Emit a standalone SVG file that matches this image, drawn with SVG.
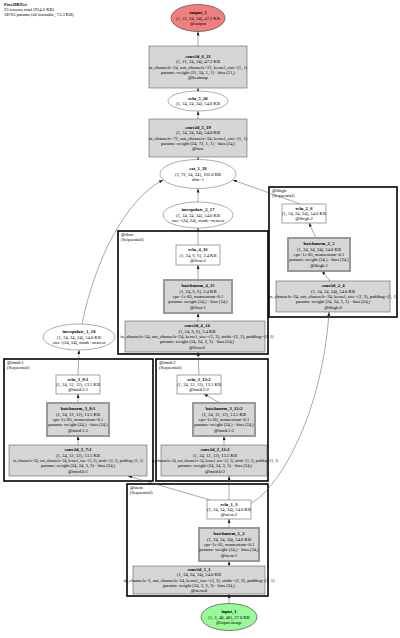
<svg xmlns="http://www.w3.org/2000/svg" width="400" height="638" viewBox="0 0 400 638">
<style>
text { font-family: "Liberation Serif", "Times New Roman", serif; font-size: 4.6px; fill: #000; text-anchor: middle; }
.b { font-weight: bold; }
.l { text-anchor: start; }
.s1 { font-size: 3.9px; }
.s2 { font-size: 3.8px; }
.conv { fill: #d6d6d6; stroke: #444; stroke-width: 0.5; }
.bn { fill: #d6d6d6; stroke: #999; stroke-width: 2; }
.wb { fill: #fff; stroke: #666; stroke-width: 0.6; }
.el { fill: #fff; stroke: #777; stroke-width: 0.6; }
.cl { fill: none; stroke: #000; stroke-width: 1.6; }
.e { fill: none; stroke: #555; stroke-width: 0.5; marker-end: url(#ah); }
</style>
<defs>
<marker id="ah" markerWidth="4" markerHeight="3" refX="4" refY="1.5" orient="auto" markerUnits="userSpaceOnUse">
<path d="M0,0 L4,1.5 L0,3 z" fill="#222"/>
</marker>
</defs>
<rect width="400" height="638" fill="#fff"/>
<g id="header">
<text class="l b" x="4" y="5.5">PoseHRNet</text>
<text class="l" x="4" y="10.5">23 tensors total (914.6 KB)</text>
<text class="l" x="4" y="15.5">18765 params (all trainable, 73.3 KB)</text>
</g>
<g id="clusters">
<g id="cluster_flow"><rect class="cl" x="118" y="231" width="150" height="123"/><text class="l" x="121" y="236">@flow</text><text class="l" x="121" y="241">(Sequential)</text></g>
<g id="cluster_fhigh"><rect class="cl" x="269" y="187" width="128" height="130"/><text class="l" x="272" y="192">@fhigh</text><text class="l" x="272" y="197">(Sequential)</text></g>
<g id="cluster_fmid1"><rect class="cl" x="4" y="359" width="149" height="122"/><text class="l" x="7" y="364">@fmid:1</text><text class="l" x="7" y="369">(Sequential)</text></g>
<g id="cluster_fmid2"><rect class="cl" x="156" y="359" width="112" height="122"/><text class="l" x="159" y="364">@fmid:2</text><text class="l" x="159" y="369">(Sequential)</text></g>
<g id="cluster_stem"><rect class="cl" x="127" y="484" width="141" height="112"/><text class="l" x="130" y="489">@stem</text><text class="l" x="130" y="494">(Sequential)</text></g>
</g>
<g id="edges">
<path class="e" d="M198,46 L198,31.5"/>
<path class="e" d="M198,91 L198,88"/>
<path class="e" d="M198,119 L198,111"/>
<path class="e" d="M198,159.5 L198,157"/>
<path class="e" d="M198,202 L198,188.5"/>
<path class="e" d="M198,245 L198,228"/>
<path class="e" d="M198,280 L198,265"/>
<path class="e" d="M198,321 L198,313"/>
<path class="e" d="M199,375 L198,352"/>
<path class="e" d="M220,403 L204,394"/>
<path class="e" d="M224,445 L224,436"/>
<path class="e" d="M229,500 L229,476"/>
<path class="e" d="M210,500 L128,476"/>
<path class="e" d="M251,503 C275,492 322,420 329,312"/>
<path class="e" d="M78,445 L78,436"/>
<path class="e" d="M78,403 L78,394"/>
<path class="e" d="M78,375 L79,350"/>
<path class="e" d="M82,324 C95,260 125,200 163,180"/>
<path class="e" d="M330,281 L322,271"/>
<path class="e" d="M316,238 L309,223"/>
<path class="e" d="M300,204 L233,180"/>
<path class="e" d="M229,603.5 L229,594"/>
<path class="e" d="M229,566 L229,561"/>
<path class="e" d="M229,528 L229,519"/>
</g>
<g id="output_1"><ellipse cx="198" cy="18" rx="27" ry="13.5" fill="#f08080" stroke="#333" stroke-width="0.6"/>
<text class="b" x="198" y="14.2">output_1</text><text x="198" y="19.5">(1, 21, 24, 24), 47.2 KB</text><text x="198" y="24.8">@output</text></g>
<g id="conv2d_6_21"><rect class="conv" x="149" y="46" width="98" height="42"/>
<text class="b" x="198" y="57.9">conv2d_6_21</text><text x="198" y="63.2">(1, 21, 24, 24), 47.2 KB</text><text x="198" y="68.5">in_channels=24, out_channels=21, kernel_size=(1, 1)</text><text x="198" y="73.8">params: weight (21, 24, 1, 1) · bias (21,)</text><text x="198" y="79.1">@heatmap</text></g>
<g id="relu_5_20"><ellipse class="el" cx="198" cy="101" rx="30" ry="10"/>
<text class="b" x="198" y="99.85">relu_5_20</text><text x="198" y="105.15">(1, 24, 24, 24), 54.0 KB</text></g>
<g id="conv2d_5_19"><rect class="conv" x="149" y="119" width="98" height="38"/>
<text class="b" x="198" y="128.9">conv2d_5_19</text><text x="198" y="134.2">(1, 24, 24, 24), 54.0 KB</text><text x="198" y="139.5">in_channels=72, out_channels=24, kernel_size=(1, 1)</text><text x="198" y="144.8">params: weight (24, 72, 1, 1) · bias (24,)</text><text x="198" y="150.1">@fuse</text></g>
<g id="cat_1_18"><ellipse class="el" cx="198" cy="174" rx="38" ry="14.5"/>
<text class="b" x="198" y="170.2">cat_1_18</text><text x="198" y="175.5">(1, 72, 24, 24), 162.0 KB</text><text x="198" y="180.8">dim=1</text></g>
<g id="interpolate_2_17"><ellipse class="el" cx="198" cy="215" rx="35" ry="13"/>
<text class="b" x="198" y="211.2">interpolate_2_17</text><text x="198" y="216.5">(1, 24, 24, 24), 54.0 KB</text><text x="198" y="221.8">size=(24, 24), mode=nearest</text></g>
<g id="relu_4_16"><rect class="wb" x="176" y="245" width="44" height="20"/>
<text class="b" x="198" y="251.2">relu_4_16</text><text x="198" y="256.5">(1, 24, 6, 6), 3.4 KB</text><text x="198" y="261.8">@flow.2</text></g>
<g id="batchnorm_4_15"><rect class="bn" x="164" y="280" width="68" height="33"/>
<text class="b" x="198" y="287.4">batchnorm_4_15</text><text x="198" y="292.7">(1, 24, 6, 6), 3.4 KB</text><text x="198" y="298">eps=1e-05, momentum=0.1</text><text x="198" y="303.3">params: weight (24,) · bias (24,)</text><text x="198" y="308.6">@flow.1</text></g>
<g id="conv2d_4_14"><rect class="conv" x="125" y="321" width="140" height="31"/>
<text class="b" x="197" y="327.4">conv2d_4_14</text><text x="197" y="332.7">(1, 24, 6, 6), 3.4 KB</text><text x="197" y="338">in_channels=24, out_channels=24, kernel_size=(3, 3), stride=(2, 2), padding=(1, 1)</text><text x="197" y="343.3">params: weight (24, 24, 3, 3) · bias (24,)</text><text x="197" y="348.6">@flow.0</text></g>
<g id="relu_2_6"><rect class="wb" x="282" y="204" width="44" height="19"/>
<text class="b" x="304" y="209.7">relu_2_6</text><text x="304" y="215">(1, 24, 24, 24), 54.0 KB</text><text x="304" y="220.3">@fhigh.2</text></g>
<g id="batchnorm_2_5"><rect class="bn" x="288" y="238" width="62" height="33"/>
<text class="b" x="319" y="245.4">batchnorm_2_5</text><text x="319" y="250.7">(1, 24, 24, 24), 54.0 KB</text><text x="319" y="256">eps=1e-05, momentum=0.1</text><text x="319" y="261.3">params: weight (24,) · bias (24,)</text><text x="319" y="266.6">@fhigh.1</text></g>
<g id="conv2d_2_4"><rect class="conv" x="276" y="281" width="114" height="31"/>
<text class="b" x="333" y="287.4">conv2d_2_4</text><text x="333" y="292.7">(1, 24, 24, 24), 54.0 KB</text><text x="333" y="298">in_channels=24, out_channels=24, kernel_size=(3, 3), padding=(1, 1)</text><text x="333" y="303.3">params: weight (24, 24, 3, 3) · bias (24,)</text><text x="333" y="308.6">@fhigh.0</text></g>
<g id="interpolate_1_10"><ellipse class="el" cx="79" cy="337" rx="36" ry="13"/>
<text class="b" x="79" y="333.2">interpolate_1_10</text><text x="79" y="338.5">(1, 24, 24, 24), 54.0 KB</text><text x="79" y="343.8">size=(24, 24), mode=nearest</text></g>
<g id="relu_3_9_1"><rect class="wb" x="56" y="375" width="44" height="19"/>
<text class="b" x="78" y="380.7">relu_3_9:1</text><text x="78" y="386">(1, 24, 12, 12), 13.5 KB</text><text x="78" y="391.3">@fmid.2:1</text></g>
<g id="batchnorm_3_8_1"><rect class="bn" x="47" y="403" width="62" height="33"/>
<text class="b" x="78" y="410.4">batchnorm_3_8:1</text><text x="78" y="415.7">(1, 24, 12, 12), 13.5 KB</text><text x="78" y="421">eps=1e-05, momentum=0.1</text><text x="78" y="426.3">params: weight (24,) · bias (24,)</text><text x="78" y="431.6">@fmid.1:1</text></g>
<g id="conv2d_3_7_1"><rect class="conv" x="9" y="445" width="138" height="31"/>
<text class="b" x="78" y="451.4">conv2d_3_7:1</text><text x="78" y="456.7">(1, 24, 12, 12), 13.5 KB</text><text class="s1" x="78" y="462">in_channels=24, out_channels=24, kernel_size=(3, 3), stride=(2, 2), padding=(1, 1)</text><text x="78" y="467.3">params: weight (24, 24, 3, 3) · bias (24,)</text><text x="78" y="472.6">@fmid.0:1</text></g>
<g id="relu_3_13_2"><rect class="wb" x="177" y="375" width="44" height="19"/>
<text class="b" x="199" y="380.7">relu_3_13:2</text><text x="199" y="386">(1, 24, 12, 12), 13.5 KB</text><text x="199" y="391.3">@fmid.2:2</text></g>
<g id="batchnorm_3_12_2"><rect class="bn" x="193" y="403" width="62" height="33"/>
<text class="b" x="224" y="410.4">batchnorm_3_12:2</text><text x="224" y="415.7">(1, 24, 12, 12), 13.5 KB</text><text x="224" y="421">eps=1e-05, momentum=0.1</text><text x="224" y="426.3">params: weight (24,) · bias (24,)</text><text x="224" y="431.6">@fmid.1:2</text></g>
<g id="conv2d_3_11_2"><rect class="conv" x="161" y="445" width="106" height="31"/>
<text class="b" x="215" y="451.4">conv2d_3_11:2</text><text x="215" y="456.7">(1, 24, 12, 12), 13.5 KB</text><text class="s2" x="215" y="462">in_channels=24, out_channels=24, kernel_size=(3, 3), stride=(2, 2), padding=(1, 1)</text><text x="215" y="467.3">params: weight (24, 24, 3, 3) · bias (24,)</text><text x="215" y="472.6">@fmid.0:2</text></g>
<g id="relu_1_3"><rect class="wb" x="207" y="500" width="44" height="19"/>
<text class="b" x="229" y="505.7">relu_1_3</text><text x="229" y="511">(1, 24, 24, 24), 54.0 KB</text><text x="229" y="516.3">@stem.2</text></g>
<g id="batchnorm_1_2"><rect class="bn" x="199" y="528" width="60" height="33"/>
<text class="b" x="229" y="535.4">batchnorm_1_2</text><text x="229" y="540.7">(1, 24, 24, 24), 54.0 KB</text><text x="229" y="546">eps=1e-05, momentum=0.1</text><text x="229" y="551.3">params: weight (24,) · bias (24,)</text><text x="229" y="556.6">@stem.1</text></g>
<g id="conv2d_1_1"><rect class="conv" x="133" y="566" width="132" height="28"/>
<text class="b" x="199" y="570.9">conv2d_1_1</text><text x="199" y="576.2">(1, 24, 24, 24), 54.0 KB</text><text x="199" y="581.5">in_channels=3, out_channels=24, kernel_size=(3, 3), stride=(2, 2), padding=(1, 1)</text><text x="199" y="586.8">params: weight (24, 3, 3, 3) · bias (24,)</text><text x="199" y="592.1">@stem.0</text></g>
<g id="input_1"><ellipse cx="229" cy="617" rx="28" ry="13.5" fill="#98fb98" stroke="#333" stroke-width="0.6"/>
<text class="b" x="229" y="613.2">input_1</text><text x="229" y="618.5">(1, 3, 48, 48), 27.0 KB</text><text x="229" y="623.8">@input.image</text></g>
</svg>
